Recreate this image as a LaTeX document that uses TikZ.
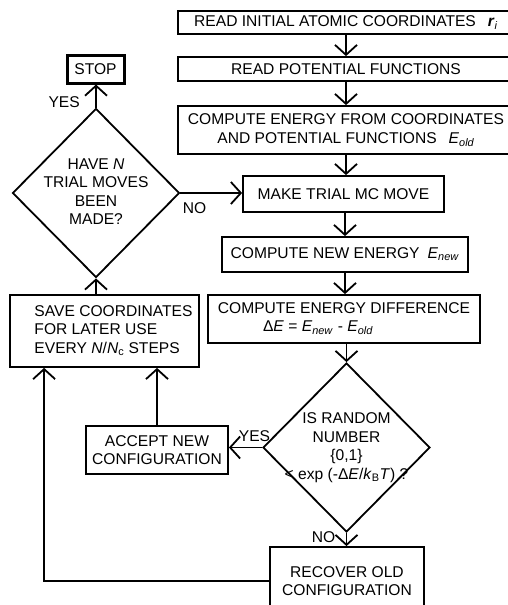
\documentclass[tikz,border=0pt]{standalone}
\usepackage{fontspec}
\setmainfont{Liberation Sans}
\usepackage{tikz}
\usetikzlibrary{shapes,arrows.meta}
\newcommand{\Esub}[1]{\textit{E}\textsubscript{\textit{#1}}}
\newcommand{\dtext}[1]{\makebox[0pt]{\smash{\raisebox{-4pt}{\begin{tabular}{@{}c@{}}#1\end{tabular}}}}}

\begin{document}
\begin{tikzpicture}[x=1pt,y=-1pt,
        every node/.style={font=\fontsize{15.6}{18.5}\selectfont},
        box/.style={draw, rectangle, line width=1.8pt, inner sep=0pt, align=center},
        decision/.style={draw, diamond, line width=1.8pt, inner sep=0pt, minimum width=167pt, minimum height=169pt},
        flow/.style={line width=1.8pt, -{Straight Barb[length=10pt,width=22pt]}}]
        \useasboundingbox (0,0) rectangle (507,605);
        % columna principal
        \node[box, minimum width=336pt, minimum height=23pt] (readr) at (346,22.5) {READ INITIAL ATOMIC COORDINATES\hspace{12pt}\textit{\textbf{r}}\textsubscript{\textit{i}}};
        \node[box, minimum width=336pt, minimum height=24pt] (readpot) at (346,69) {READ POTENTIAL FUNCTIONS};
        \node[box, minimum width=336pt, minimum height=48pt] (eold) at (346,130) {COMPUTE ENERGY FROM COORDINATES\\AND POTENTIAL FUNCTIONS\hspace{12pt}\Esub{old}};
        \node[box, minimum width=201pt, minimum height=36pt] (move) at (343.5,194) {MAKE TRIAL MC MOVE};
        \node[box, minimum width=246pt, minimum height=35pt] (enew) at (345,254.5) {COMPUTE NEW ENERGY\hspace{8pt}\Esub{new}};
        \node[box, minimum width=272pt, minimum height=48pt] (diff) at (344,319) {\begin{tabular}{@{}c@{}}COMPUTE ENERGY DIFFERENCE\\\makebox[162pt][l]{Δ\textit{E} = \Esub{new} - \Esub{old}}\end{tabular}};
        \node[decision] (test) at (346.5,447.5) {\dtext{IS RANDOM\\NUMBER\\\{0,1\}\\< exp (-Δ\textit{E}/\textit{k}\textsubscript{B}\textit{T}) ?}};
        \node[box, minimum width=154pt, minimum height=68pt] (recover) at (347,581) {RECOVER OLD\\CONFIGURATION};
        % lado izquierdo
        \node[box, minimum width=142pt, minimum height=48pt] (accept) at (157,450) {ACCEPT NEW\\CONFIGURATION};
        \node[box, minimum width=189pt, minimum height=72pt] (save) at (104.5,331) {\hspace*{18pt}\begin{tabular}{@{}l@{}}SAVE COORDINATES\\FOR LATER USE\\EVERY \textit{N}/\textit{N}\textsubscript{c} STEPS\end{tabular}};
        \node[decision] (check) at (96,193) {\dtext{HAVE \textit{N}\\TRIAL MOVES\\BEEN\\MADE?}};
        \node[box, line width=3pt, minimum width=57pt, minimum height=28pt] (stop) at (95.5,69) {STOP};
        % flechas
        \draw[flow] (readr) -- (readpot);
        \draw[flow] (readpot) -- (eold);
        \draw[flow] (eold.south) -- (eold.south |- move.north);
        \draw[flow] (move.south -| enew) -- (enew.north);
        \draw[flow] (enew.south) -- (enew.south |- diff.north);
        \draw[flow] (test.north |- diff.south) -- (test.north);
        \draw[flow] (test.west) -- node[pos=0.23, above=2pt] {YES} (test.west -| accept.east);
        \draw[flow] (test.south) -- node[pos=0.33, left=7pt] {NO} (test.south |- recover.north);
        \draw[flow] (accept.north) -- (accept.north |- save.south);
        \draw[flow] (recover.west) -| ([xshift=35pt]save.south west);
        \draw[flow] (check.south |- save.north) -- (check.south);
        \draw[flow] (check.north) -- node[pos=0.25, left=12pt] {YES} (check.north |- stop.south);
        \draw[flow] (check.east) -- node[pos=0.23, below=5pt] {NO} (check.east -| move.west);
\end{tikzpicture}
\end{document}
